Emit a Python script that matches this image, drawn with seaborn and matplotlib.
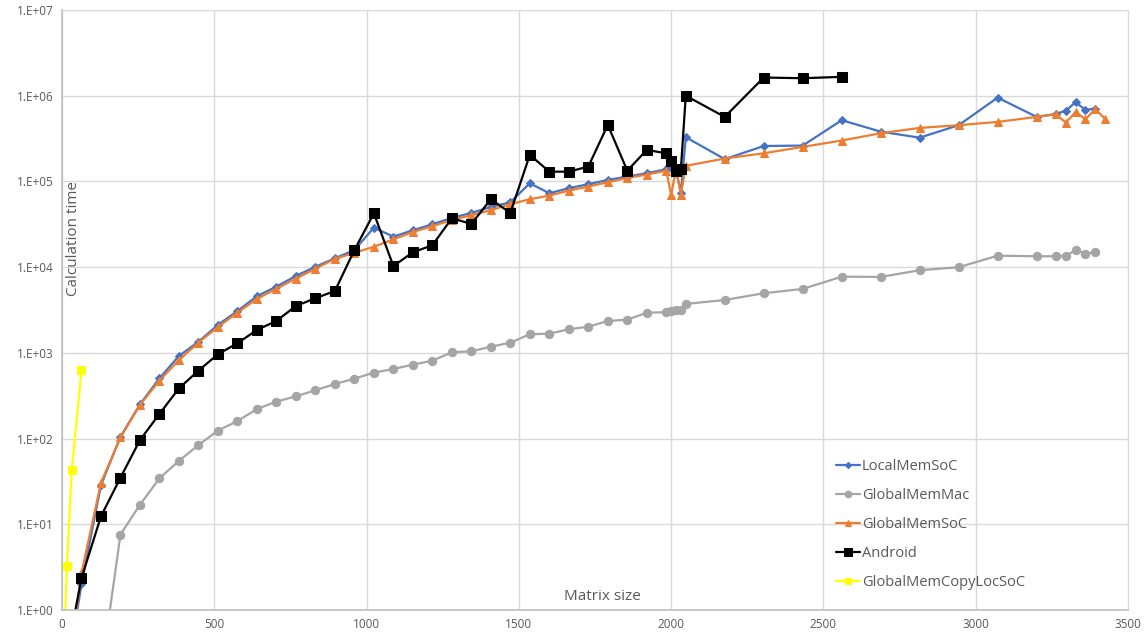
import numpy as np
import pandas as pd
import matplotlib
matplotlib.use("Agg")
import matplotlib.pyplot as plt
import seaborn as sns
from matplotlib.ticker import FixedLocator, FuncFormatter

# matrix sizes used in the benchmark runs
sizes = [32, 64, 128, 192, 256, 320, 384, 448, 512, 576, 640, 704, 768, 832,
         896, 960, 1024, 1088, 1152, 1216, 1280, 1344, 1408, 1472, 1536, 1600,
         1664, 1728, 1792, 1856, 1920, 1984, 2000, 2016, 2032, 2048, 2176, 2304,
         2432, 2560, 2688, 2816, 2944, 3072, 3200, 3264, 3296, 3328, 3360, 3392,
         3424]

local_mem_soc = [0.4, 2.0, 28.7, 105, 251, 505, 920, 1350, 2120, 3080, 4580,
                 5930, 7900, 10100, 12700, 15800, 28900, 22700, 26900, 31700,
                 37500, 42900, 50400, 57100, 95200, 72800, 83400, 92800, 104000,
                 114000, 124600, 138700, 143000, 136000, 74000, 328000, 182000,
                 259000, 262000, 518000, 381000, 324000, 453000, 950000, 566000,
                 613000, 670000, 840000, 683000, 708000]

global_mem_mac = [0.18, 7.6, 16.9, 34.4, 55, 84, 124, 160, 221, 270, 311, 366,
                  433, 500, 588, 649, 728, 811, 1016, 1043, 1180, 1315, 1648,
                  1676, 1885, 2020, 2355, 2440, 2940, 2980, 3060, 3140, 3140,
                  3720, 4140, 4960, 5570, 7740, 7690, 9200, 9970, 13600, 13400,
                  13400, 13500, 15850, 14400, 15000]

global_mem_soc = [0.4, 2.7, 30.6, 103, 247, 474, 826, 1320, 2000, 2950, 4260,
                  5610, 7350, 9600, 12500, 14700, 17300, 21100, 25700, 30000,
                  35600, 40300, 46200, 54200, 62000, 68400, 78200, 87100, 97900,
                  110000, 120000, 133600, 69500, 139000, 70000, 152000, 185000,
                  213000, 253000, 300000, 365000, 421000, 453000, 495000, 566000,
                  608000, 485000, 647000, 532000, 695000, 541000]

android = [0.6, 2.35, 12.4, 35, 96, 194, 386, 620, 964, 1295, 1850, 2360, 3520,
           4340, 5270, 15800, 42500, 10300, 14900, 18000, 37200, 31900, 62000,
           42900, 204000, 130000, 130000, 149000, 456000, 133600, 233000,
           213000, 175000, 134000, 139000, 1000000, 566000, 1630000, 1600000,
           1660000]

copy_loc_x = [8, 16, 32, 64]
copy_loc_soc = [0.5, 3.3, 43, 630]

series = [
    ("LocalMemSoC", sizes[:len(local_mem_soc)], local_mem_soc, "#4472C4", "D", 4),
    ("GlobalMemMac", sizes[2:2 + len(global_mem_mac)], global_mem_mac, "#A5A5A5", "o", 6),
    ("GlobalMemSoC", sizes[:len(global_mem_soc)], global_mem_soc, "#ED7D31", "^", 6),
    ("Android", sizes[:len(android)], android, "#000000", "s", 7),
    ("GlobalMemCopyLocSoC", copy_loc_x, copy_loc_soc, "#FFFF00", "s", 6),
]

sns.set_style("white")
plt.rcParams["font.family"] = ["Open Sans", "DejaVu Sans"]

fig = plt.figure(figsize=(11.47, 6.37), dpi=100)
ax = fig.add_axes([62 / 1147, 27 / 637, 1066 / 1147, 600 / 637])

for name, xs, ys, color, marker, ms in series:
    df = pd.DataFrame({"size": xs, "time": ys})
    sns.lineplot(data=df, x="size", y="time", ax=ax, color=color, marker=marker,
                 markersize=ms, markeredgecolor=color, linewidth=1.6, label=name,
                 sort=False)

ax.set_yscale("log")
ax.set_ylim(1, 1e7)
ax.set_xlim(0, 3500)
ax.xaxis.set_major_locator(FixedLocator(np.arange(0, 3501, 500)))
ax.yaxis.set_major_locator(FixedLocator([10.0 ** k for k in range(8)]))
ax.yaxis.set_minor_locator(FixedLocator([]))
ax.yaxis.set_major_formatter(FuncFormatter(lambda v, p: "1.E+%02d" % round(np.log10(v))))
ax.grid(True, which="major", color="#D9D9D9", linewidth=1)
ax.tick_params(axis="both", length=0, labelsize=8.5, labelcolor="#595959", pad=6)

for side in ["left", "bottom"]:
    ax.spines[side].set_color("#BFBFBF")
    ax.spines[side].set_linewidth(1.2)
for side in ["top", "right"]:
    ax.spines[side].set_color("#D9D9D9")

ax.set_xlabel("")
ax.set_ylabel("")
ax.text(0.011, 0.62, "Calculation time", transform=ax.transAxes, rotation=90,
        ha="center", va="center", fontsize=11, color="#595959")
ax.text(0.507, 0.022, "Matrix size", transform=ax.transAxes,
        ha="center", va="center", fontsize=11, color="#595959")

ax.legend(loc="lower left", bbox_to_anchor=(0.714, 0.012), frameon=False,
          fontsize=10.5, labelcolor="#595959", handlelength=1.65,
          handletextpad=0.1, labelspacing=0.95, markerscale=0.8)

fig.savefig("out.png", dpi=100)
